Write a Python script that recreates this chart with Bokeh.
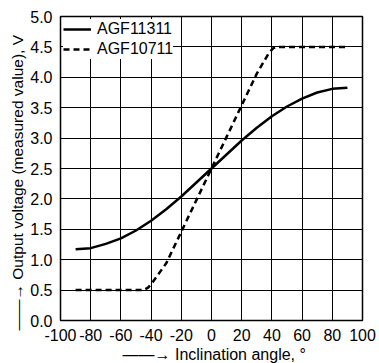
from bokeh.plotting import figure
from bokeh.models import FixedTicker, Range1d, Title, Legend, LegendItem
from bokeh.embed import file_html
from bokeh.resources import INLINE

# Data
angle_solid = [-90, -80, -70, -60, -50, -40, -30, -20, -10, 0, 10, 20, 30, 40, 50, 60, 70, 80, 90]
agf11311 = [1.17, 1.19, 1.26, 1.35, 1.48, 1.64, 1.83, 2.04, 2.27, 2.50, 2.73, 2.96, 3.17, 3.36, 3.52, 3.65, 3.75, 3.81, 3.83]
angle_dash = [-90, -80, -70, -60, -50, -45, -42, -39, -30, -20, -10, 0, 10, 20, 30, 38, 41, 44, 50, 60, 70, 80, 90]
agf10711 = [0.5, 0.5, 0.5, 0.5, 0.5, 0.5, 0.54, 0.63, 0.94, 1.46, 1.98, 2.50, 3.02, 3.54, 4.06, 4.40, 4.48, 4.5, 4.5, 4.5, 4.5, 4.5, 4.5]
x_ticks = [-100, -80, -60, -40, -20, 0, 20, 40, 60, 80, 100]
y_ticks = [0.0, 0.5, 1.0, 1.5, 2.0, 2.5, 3.0, 3.5, 4.0, 4.5, 5.0]
series_names = ["AGF11311", "AGF10711"]
x_title = "Inclination angle, °"
y_title = "Output voltage (measured value), V"
arrow_text = "——→ "

FONT = "Liberation Sans"

p = figure(width=379, height=363, output_backend="svg", toolbar_location=None,
           x_range=Range1d(-100, 100), y_range=Range1d(0, 5),
           min_border_left=60, min_border_right=17, min_border_top=16, min_border_bottom=43)

p.outline_line_color = "black"
p.outline_line_width = 1.5

for ax in (p.xaxis[0], p.yaxis[0]):
    ax.axis_line_color = "black"
    ax.major_tick_line_color = None
    ax.minor_tick_line_color = None
    ax.major_label_text_font = FONT
    ax.major_label_text_font_size = "16px"
    ax.major_label_text_color = "black"
    ax.major_label_standoff = 2

p.xaxis.ticker = FixedTicker(ticks=x_ticks)
p.yaxis.ticker = FixedTicker(ticks=y_ticks)
p.xaxis.major_label_overrides = {t: str(t) for t in x_ticks}
p.yaxis.major_label_overrides = {t: f"{t:.1f}" for t in y_ticks}

p.xgrid.ticker = FixedTicker(ticks=x_ticks)
p.ygrid.ticker = FixedTicker(ticks=y_ticks)
for g in (p.xgrid[0], p.ygrid[0]):
    g.grid_line_color = "black"
    g.grid_line_width = 1
    g.grid_line_alpha = 1

r1 = p.line(angle_solid, agf11311, line_color="black", line_width=2.5)
r2 = p.line(angle_dash, agf10711, line_color="black", line_width=2.5, line_dash="6 4")

legend = Legend(items=[LegendItem(label=series_names[0], renderers=[r1]),
                       LegendItem(label=series_names[1], renderers=[r2])],
                location="top_left", margin=3, padding=7, spacing=0,
                glyph_width=28, glyph_height=20, label_height=20, label_standoff=6,
                label_text_font=FONT, label_text_font_size="16px", label_text_color="black",
                border_line_color=None, background_fill_color="white", background_fill_alpha=1)
p.add_layout(legend)

# Axis titles (with leading arrows) as side-panel titles
p.add_layout(Title(text=arrow_text + x_title, align="left", offset=62, standoff=0,
                   text_font=FONT, text_font_size="16px", text_font_style="normal",
                   text_color="black"), "below")
p.add_layout(Title(text=arrow_text + y_title, align="left", offset=-10, standoff=3,
                   text_font=FONT, text_font_size="15.5px", text_font_style="normal",
                   text_color="black"), "left")

out = file_html(p, INLINE)
open("out.html", "w").write(out)
